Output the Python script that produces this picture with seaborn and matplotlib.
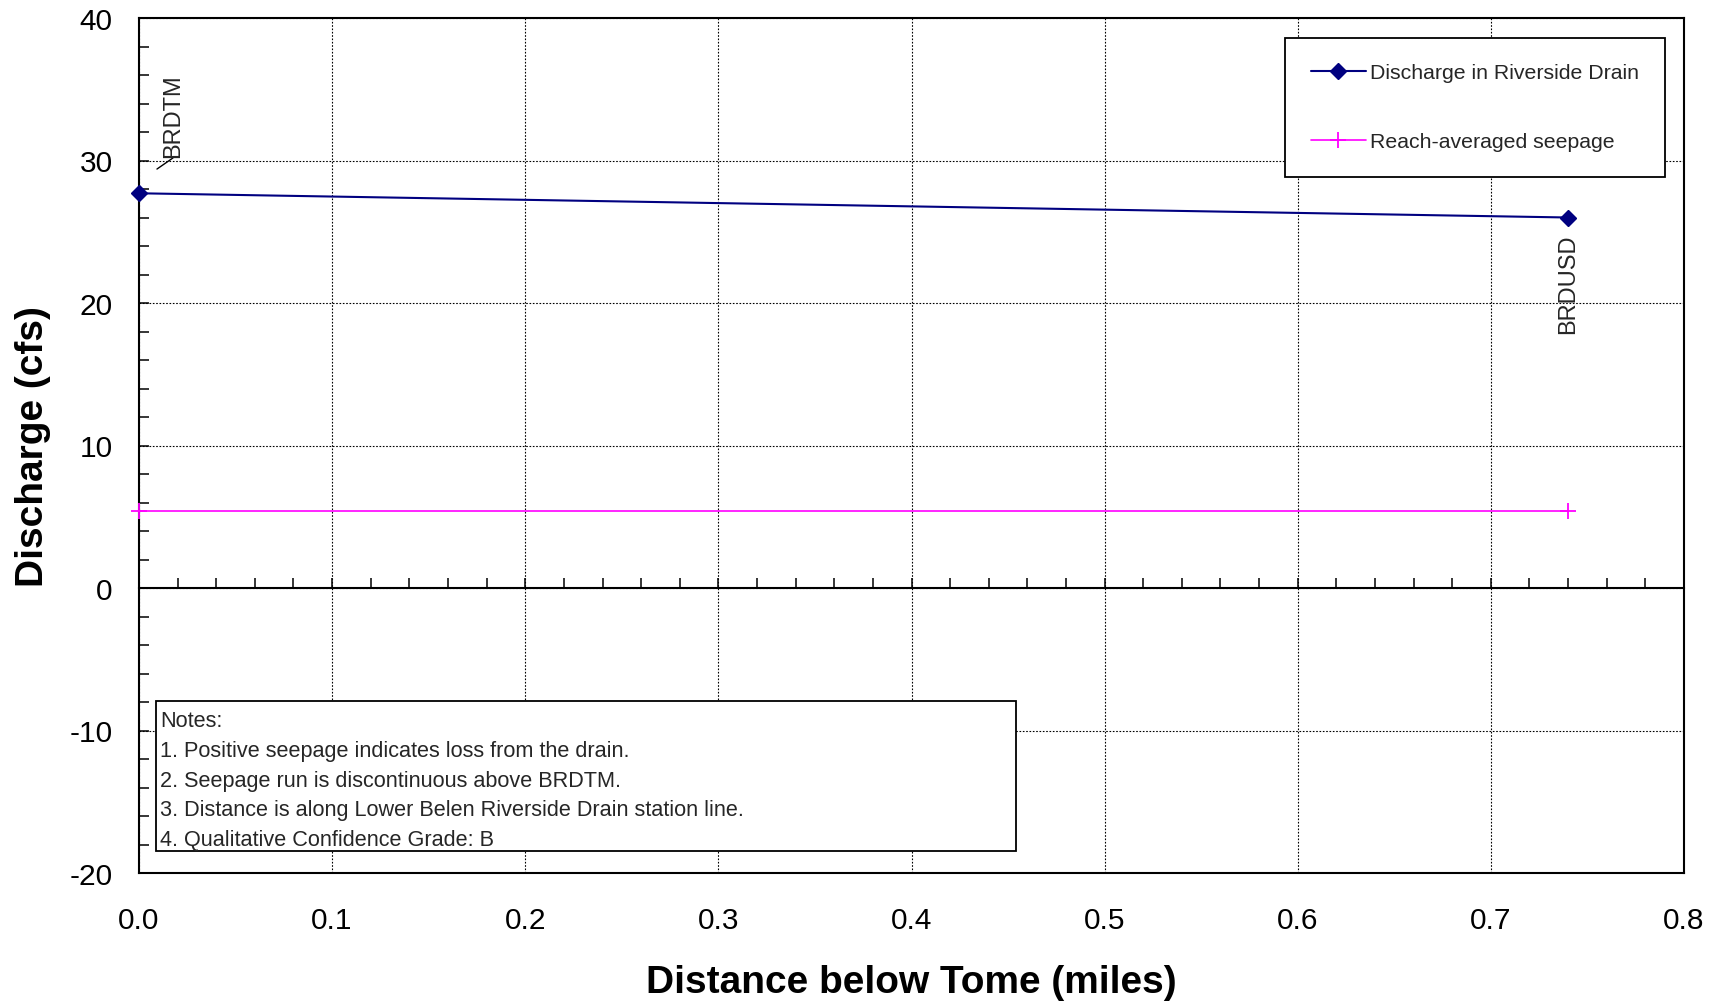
import numpy as np
import pandas as pd
import matplotlib.pyplot as plt
import matplotlib.ticker as mticker
from matplotlib.patches import Rectangle
import seaborn as sns

sns.set_theme(style="white")
plt.rcParams['font.family'] = ['Liberation Sans', 'DejaVu Sans']
plt.rcParams['axes.unicode_minus'] = False

# data
distance = [0.0, 0.74]
discharge = [27.7, 26.0]
seepage_distance = [0.0, 0.74]
seepage = [5.4, 5.4]
stations = ['BRDTM', 'BRDUSD']
notes = ['Notes:',
         '1. Positive seepage indicates loss from the drain.',
         '2. Seepage run is discontinuous above BRDTM.',
         '3. Distance is along Lower Belen Riverside Drain station line.',
         '4. Qualitative Confidence Grade: B']

navy = '#000080'
magenta = '#FF00FF'

df = pd.DataFrame({'distance': distance, 'discharge': discharge})
seep = pd.DataFrame({'distance': seepage_distance, 'seepage': seepage})

fig = plt.figure(figsize=(17.24, 10.03), dpi=100)
ax = fig.add_axes([139 / 1724, 129 / 1003, 1545 / 1724, 855 / 1003])

sns.lineplot(data=df, x='distance', y='discharge', ax=ax, color=navy,
             marker='D', markersize=8, markeredgecolor=navy, markeredgewidth=1,
             linewidth=1.5, label='Discharge in Riverside Drain', zorder=4, clip_on=False)
sns.lineplot(data=seep, x='distance', y='seepage', ax=ax, color=magenta,
             marker='+', markersize=11, markeredgecolor=magenta, markeredgewidth=1.3,
             linewidth=1.2, label='Reach-averaged seepage', zorder=4, clip_on=False)

ax.set_xlim(0, 0.8)
ax.set_ylim(-20, 40)
ax.xaxis.set_major_locator(mticker.MultipleLocator(0.1))
ax.xaxis.set_major_formatter(mticker.FormatStrFormatter('%.1f'))
ax.yaxis.set_major_locator(mticker.MultipleLocator(10))
ax.yaxis.set_minor_locator(mticker.MultipleLocator(2))

ax.grid(True, which='major', color='black', linestyle=(0, (1.5, 1.5)), linewidth=0.8)
ax.set_axisbelow(True)

for s in ax.spines.values():
    s.set_visible(True)
    s.set_color('black')
    s.set_linewidth(1.5)

ax.tick_params(axis='x', which='both', length=0, labelsize=21.5, pad=24, colors='black')
ax.tick_params(axis='y', which='both', direction='in', length=7, width=1.1,
               left=True, labelsize=21.5, pad=19, colors='black')

# x-axis crossing at zero
sec = ax.secondary_xaxis(1 / 3)
sec.xaxis.set_major_locator(mticker.MultipleLocator(0.1))
sec.xaxis.set_minor_locator(mticker.MultipleLocator(0.02))
sec.tick_params(axis='x', which='both', direction='in', length=7, width=1.1,
                labelbottom=False, colors='black')
sec.spines['bottom'].set_linewidth(1.5)
sec.spines['bottom'].set_color('black')

ax.set_xlabel('Distance below Tome (miles)', fontsize=28, fontweight='bold', color='black')
ax.set_ylabel('Discharge (cfs)', fontsize=28, fontweight='bold', color='black')
ax.xaxis.set_label_coords(0.5, -0.106)
ax.yaxis.set_label_coords(-0.057, 0.5)

# station labels
ax.text(distance[0] + 0.0175, discharge[0] + 2.55, stations[0], rotation=90,
        ha='center', va='bottom', fontsize=17)
ax.plot([distance[0] + 0.0093, distance[0] + 0.0176],
        [discharge[0] + 1.7, discharge[0] + 2.48], color='black', lw=1)
ax.text(distance[1], discharge[1] - 1.1, stations[1], rotation=90,
        ha='center', va='top', fontsize=17)

leg = ax.legend(loc='upper right', bbox_to_anchor=(1 - 19 / 1545, 1 - 20 / 855),
                borderaxespad=0, fontsize=15.3, frameon=True, fancybox=False,
                edgecolor='black', labelspacing=2.35, handlelength=2.6,
                handletextpad=0.22, borderpad=1.2)
leg.get_frame().set_linewidth(1.3)
leg.get_frame().set_alpha(1)

# notes box
x0, x1 = (156 - 139) / 1545, (1016 - 139) / 1545
y0, y1 = (874 - 852) / 855, (874 - 702) / 855
ax.add_patch(Rectangle((x0, y0), x1 - x0, y1 - y0, transform=ax.transAxes,
                       facecolor='white', edgecolor='black', linewidth=1.3, zorder=5))
ax.text(x0 + 4 / 1545, y1 - 9 / 855, '\n'.join(notes), transform=ax.transAxes,
        ha='left', va='top', fontsize=15.6, linespacing=1.55, zorder=6)

plt.savefig('out.png', dpi=100)
